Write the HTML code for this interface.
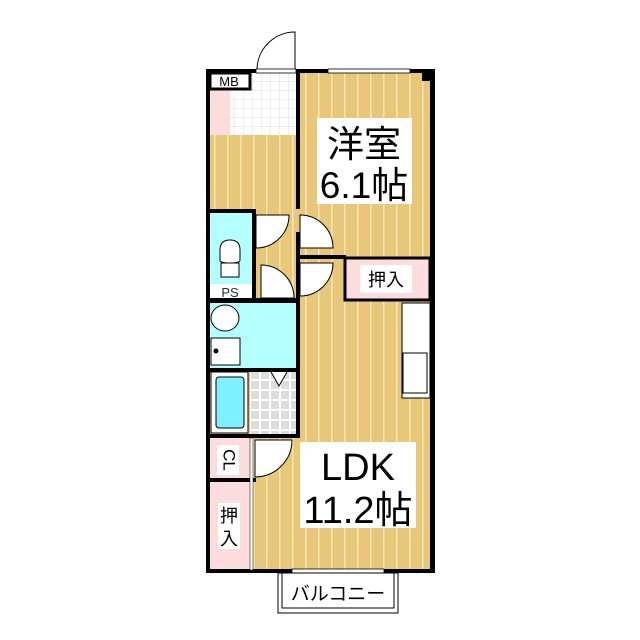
<!DOCTYPE html>
<html><head><meta charset="utf-8"><style>
html,body{margin:0;padding:0;background:#fff;}
svg{display:block;}
text{font-family:"Liberation Sans","Noto Sans CJK JP",sans-serif;}
</style></head><body>
<svg width="640" height="640" viewBox="0 0 640 640" xmlns="http://www.w3.org/2000/svg">
<defs>
<pattern id="fl" width="13" height="10" patternUnits="userSpaceOnUse">
<rect width="13" height="10" fill="#e8c878"/><rect x="6" width="1.5" height="10" fill="#f6e6b8"/>
</pattern>
<pattern id="tile" width="9" height="9" patternUnits="userSpaceOnUse">
<rect width="9" height="9" fill="#fff"/><path d="M0 0H9M0 0V9" stroke="#ddd" stroke-width="1"/>
</pattern>
<pattern id="tile2" width="10" height="10" patternUnits="userSpaceOnUse">
<rect width="10" height="10" fill="#fff"/><rect x="1" y="1" width="8" height="8" fill="#ddd"/>
</pattern>
</defs>
<rect x="210" y="73" width="220" height="497" fill="url(#fl)"/>
<rect x="230" y="73" width="66" height="62" fill="url(#tile)"/>
<rect x="210" y="88" width="20" height="47" fill="#fcdcdc"/>
<rect x="210" y="73" width="40" height="16" fill="#fff" stroke="#000" stroke-width="3"/>
<text x="229" y="86" font-size="13" text-anchor="middle">MB</text>
<rect x="210" y="212" width="43" height="72" fill="#b4ffff"/>
<rect x="210" y="284" width="43" height="14" fill="#fff"/>
<text x="230" y="297" font-size="13" text-anchor="middle" fill="#234">PS</text>
<path d="M220 250 q0-10 10-10 q10 0 10 10 v10 q0 3-10 3 q-10 0-10-3z" fill="#fff" stroke="#000"/>
<rect x="221" y="263" width="18" height="14" fill="#fff" stroke="#000"/>
<rect x="210" y="303" width="86" height="66" fill="#b4ffff"/>
<ellipse cx="225" cy="318" rx="14" ry="13" fill="#fff" stroke="#000"/>
<rect x="211" y="338" width="29" height="27" fill="#fff" stroke="#000"/>
<circle cx="216" cy="351" r="2.5" fill="#000"/>
<rect x="250" y="372" width="46" height="63" fill="url(#tile2)"/>
<rect x="211" y="372" width="37" height="61" fill="#fff" stroke="#000"/>
<rect x="216" y="377" width="28" height="51" rx="3" fill="#7ff0ff" stroke="#000"/>
<path d="M271 372 l8 14 l8 -14" fill="#fff" stroke="#000"/>
<rect x="210" y="438" width="42" height="98" fill="#fcdcdc"/>
<rect x="210" y="482" width="42" height="88" fill="#fcdcdc"/>
<rect x="217" y="445" width="22" height="30" fill="#fff"/>
<text x="228" y="460" font-size="17" text-anchor="middle" transform="rotate(90 228 460)" dominant-baseline="middle">CL</text>
<rect x="218" y="503" width="22" height="46" fill="#fff"/>
<text x="229" y="522" font-size="18" text-anchor="middle">押</text>
<text x="229" y="545" font-size="18" text-anchor="middle">入</text>
<rect x="345" y="258" width="85" height="42" fill="#fcdcdc" stroke="#000" stroke-width="3"/>
<rect x="360" y="265" width="52" height="28" fill="#fff"/>
<text x="386" y="286" font-size="18" text-anchor="middle">押入</text>
<rect x="402" y="303" width="28" height="95" fill="#fff" stroke="#000"/>
<rect x="403" y="353" width="24" height="40" fill="#fff" stroke="#000"/>
<g fill="#fff" stroke="#000">
<path d="M256 215 h33 a33 33 0 0 1 -33 33z"/>
<path d="M261 265 a33 33 0 0 1 33 33 h-33z"/>
<path d="M300 215 a33 33 0 0 1 33 33 h-33z"/>
<path d="M300 263 h33 a33 33 0 0 1 -33 33z"/>
<path d="M255 440 h37 a37 37 0 0 1 -37 37z"/>
<path d="M295 70 v-38 a38 38 0 0 0 -38 38z"/>
</g>
<g fill="#000">
<rect x="206" y="69" width="4" height="504"/>
<rect x="430" y="69" width="5" height="504"/>
<rect x="206" y="69" width="50" height="4"/>
<rect x="296" y="69" width="139" height="4"/>
<rect x="206" y="569" width="229" height="4"/>
<rect x="296" y="69" width="4" height="140"/>
<rect x="296" y="232" width="4" height="205"/>
<rect x="296" y="255" width="50" height="4"/>
<rect x="206" y="209" width="50" height="4"/>
<rect x="252" y="209" width="4" height="90"/>
<rect x="206" y="298" width="94" height="5"/>
<rect x="206" y="368" width="94" height="4"/>
<rect x="206" y="434" width="94" height="4"/>
<rect x="206" y="478" width="50" height="4"/>
<rect x="250" y="438" width="3" height="132" fill="#fff" stroke="#000" stroke-width="0.5"/>
<rect x="422" y="73" width="8" height="8"/>
</g>
<rect x="328" y="69" width="82" height="4" fill="#fff" stroke="#000" stroke-width="0.8"/>
<rect x="292" y="569" width="92" height="4" fill="#fff" stroke="#000" stroke-width="0.8"/>
<rect x="256" y="69" width="40" height="4" fill="#fff" stroke="#000" stroke-width="0.8"/>
<rect x="278" y="573" width="120" height="40" fill="#fff" stroke="#000"/>
<rect x="282" y="573" width="112" height="35" fill="#fff" stroke="#000"/>
<text x="338" y="600" font-size="19" text-anchor="middle">バルコニー</text>
<rect x="317" y="118" width="95" height="86" fill="#fff"/>
<text x="364" y="157" font-size="37" text-anchor="middle">洋室</text>
<text x="364" y="198" font-size="37" text-anchor="middle">6.1帖</text>
<rect x="300" y="442" width="116" height="86" fill="#fff"/>
<text x="358" y="480" font-size="38" text-anchor="middle">LDK</text>
<text x="358" y="523" font-size="38" text-anchor="middle">11.2帖</text>
</svg>
</body></html>
